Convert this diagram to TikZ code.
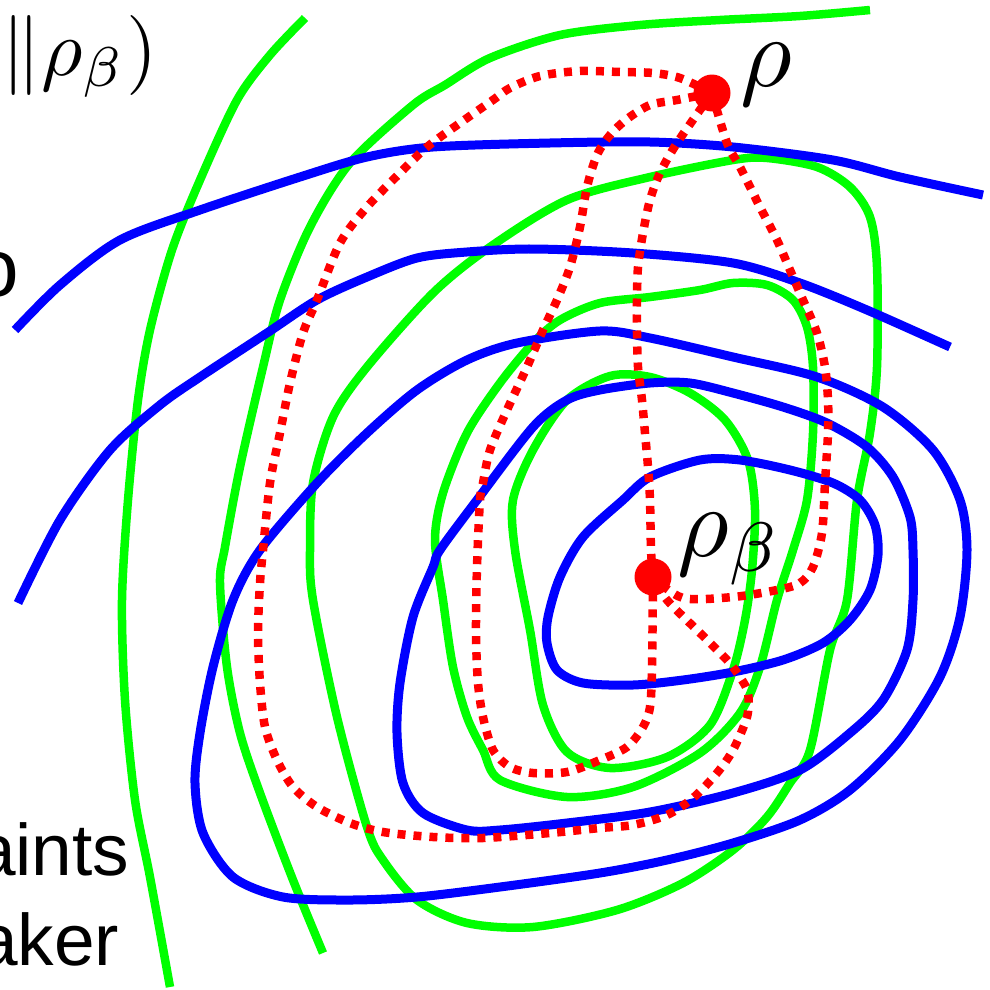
\documentclass[tikz,border=0pt]{standalone}
\usepackage{fontspec}
\newfontfamily\arialfont{Liberation Sans}
\definecolor{cgreen}{RGB}{0,255,0}
\definecolor{cblue}{RGB}{0,0,255}
\definecolor{cred}{RGB}{255,0,0}
\begin{document}
\begin{tikzpicture}[x=1pt,y=-1pt,
  gline/.style={draw=cgreen, line width=8.5pt, line join=round},
  bline/.style={draw=cblue, line width=9pt, line join=round},
  rline/.style={draw=cred, line width=8.5pt, dash pattern=on 8pt off 8pt},
  dotnode/.style={circle, fill=cred, minimum size=37pt, inner sep=0pt},
  mathlbl/.style={anchor=base west, inner sep=0pt, font=\fontsize{10}{10}\selectfont, scale=10},
  sanslbl/.style={anchor=base west, inner sep=0pt, font=\arialfont\fontsize{73}{90}\selectfont}]
\useasboundingbox (0,0) rectangle (990,990);
\clip (0,0) rectangle (990,990);

% green curves
\draw[gline] plot[smooth] coordinates {(305,18) (270,55) (237,100) (200,180) (172,250) (150,330) (138,400) (128,500) (122,600) (125,700) (135,800) (150,877) (170,987)};
\draw[gline] plot[smooth] coordinates {(870,10) (800,16) (720,20) (640,25) (560,35) (490,58) (445,85) (413,105) (350,163) (310,227) (280,300) (263,367) (240,467) (225,547) (220,583) (227,667) (240,733) (260,793) (293,880) (323,953)};
\draw[gline] plot[smooth cycle] coordinates {(310,550) (313,483) (333,417) (367,367) (433,293) (490,247) (567,200) (650,177) (733,160) (767,158) (817,167) (850,187) (870,217) (877,267) (877,367) (870,433) (857,500) (847,600) (830,650) (810,750) (790,783) (767,817) (733,850) (683,883) (617,910) (533,927) (467,923) (417,900) (383,860) (367,827) (337,717) (313,600)};
\draw[gline] plot[smooth cycle] coordinates {(435,540) (443,493) (467,433) (500,383) (533,343) (560,320) (600,303) (650,297) (700,290) (733,283) (767,285) (793,300) (807,327) (813,367) (813,433) (807,500) (793,550) (777,600) (760,667) (740,713) (700,753) (633,787) (567,797) (500,780) (483,750) (467,717) (453,667) (443,600)};
\draw[gline] plot[smooth cycle] coordinates {(513,500) (533,450) (567,400) (610,376) (650,377) (690,393) (725,420) (748,460) (755,510) (752,570) (745,620) (733,670) (710,725) (667,757) (610,768) (567,752) (543,705) (530,630) (515,550)};

% blue curves
\draw[bline] plot[smooth] coordinates {(15,330) (60,285) (120,240) (200,210) (300,177) (367,157) (433,147) (550,143) (650,142) (733,147) (833,160) (900,177) (983,195)};
\draw[bline] plot[smooth] coordinates {(18,603) (60,520) (110,450) (160,405) (200,377) (267,333) (317,300) (367,277) (417,258) (467,252) (533,249) (633,253) (733,263) (800,283) (867,310) (950,347)};
\draw[bline] plot[smooth cycle] coordinates {(260,550) (317,483) (367,433) (417,390) (467,360) (517,343) (600,331) (650,338) (733,357) (817,377) (883,407) (933,450) (960,500) (967,550) (960,617) (940,677) (900,740) (850,790) (800,820) (733,843) (667,860) (600,873) (500,887) (417,897) (350,900) (283,897) (233,877) (203,833) (195,783) (200,733) (213,667) (233,600)};
\draw[bline] plot[smooth cycle] coordinates {(440,550) (477,500) (533,427) (567,400) (600,390) (650,383) (690,383) (733,393) (783,407) (827,423) (867,447) (893,477) (910,517) (913,550) (913,600) (907,650) (883,700) (850,733) (800,770) (733,793) (650,812) (567,823) (500,830) (467,830) (423,813) (403,783) (397,733) (400,683) (413,617) (433,567)};
\draw[bline] plot[smooth cycle] coordinates {(650,477) (700,460) (740,460) (790,470) (833,483) (860,500) (875,525) (878,555) (870,590) (850,620) (823,643) (783,660) (733,672) (683,680) (633,685) (583,683) (557,670) (547,643) (548,617) (560,577) (583,537) (623,500)};

% points
\coordinate (rho) at (712,93);
\coordinate (rhob) at (653,577);

% red dotted paths
\draw[rline] plot[smooth] coordinates {(rho) (680,78) (653,73) (620,72) (580,71) (540,76) (510,88) (493,100) (460,123) (427,147) (400,173) (367,207) (340,243) (317,300) (303,333) (290,383) (280,433) (270,483) (263,550) (260,583) (258,633) (260,683) (265,727) (277,760) (293,787) (317,807) (350,823) (383,832) (433,837) (483,838) (550,833) (600,828) (633,825) (667,815) (693,798) (717,773) (733,750) (747,717) (748,693) (740,677) (727,660) (700,633) (667,600) (rhob)};
\draw[rline] plot[smooth] coordinates {(rho) (677,100) (650,105) (627,119) (610,135) (597,155) (587,187) (580,227) (570,267) (557,300) (543,330) (527,367) (507,410) (490,450) (483,483) (480,500) (477,567) (476,633) (478,683) (483,717) (493,750) (510,767) (533,773) (567,772) (600,760) (627,747) (643,727) (650,707) (652,667) (rhob)};
\draw[rline] plot[smooth] coordinates {(rho) (677,143) (660,173) (650,200) (643,233) (638,267) (637,300) (637,333) (638,367) (642,400) (645,433) (648,467) (650,500) (651,550) (rhob)};
\draw[rline] plot[smooth] coordinates {(rho) (727,143) (740,167) (760,207) (777,240) (790,270) (803,300) (817,333) (825,367) (828,400) (828,433) (825,483) (822,533) (813,567) (800,583) (777,590) (733,597) (683,598) (rhob)};

\node[dotnode] (rhodot) at (rho) {};
\node[dotnode] (rhobdot) at (rhob) {};

% labels
\node[mathlbl] (rholbl) at (738,86) {$\rho$};
\node[mathlbl] (rhoblbl) at (675,556) {$\rho_\beta$};
\node[anchor=base west, inner sep=0pt, font=\fontsize{10}{10}\selectfont, scale=8] (kl) at (0,75) {$\|\rho_\beta)$};
\node[anchor=base west, inner sep=0pt, font=\arialfont\fontsize{82}{82}\selectfont] (olbl) at (-27,296) {o};
\node[sanslbl] (l1) at (-25,875) {aints};
\node[sanslbl] (l2) at (-23,965) {aker};
\end{tikzpicture}
\end{document}
